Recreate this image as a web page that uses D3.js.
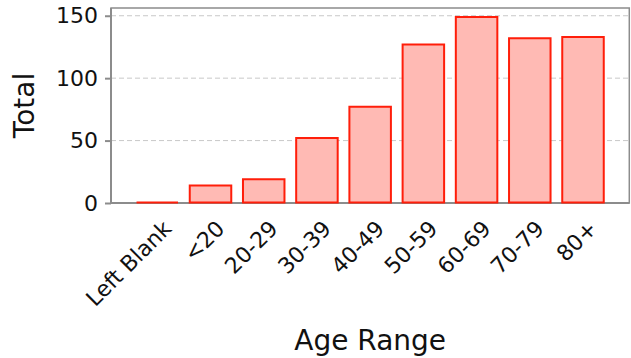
<!DOCTYPE html>
<html><head><meta charset="utf-8">
<script src="https://cdn.jsdelivr.net/npm/d3@7"></script>
<style>
html,body{margin:0;padding:0;background:#fff;}
svg{display:block;font-family:"DejaVu Sans",sans-serif;}
</style></head>
<body>
<svg id="chart" width="631" height="358"></svg>
<script>
const categories = ["Left Blank","<20","20-29","30-39","40-49","50-59","60-69","70-79","80+"];
const totals = [0,14,19,52,77,127,149,132,133];
const yTicks = [0,50,100,150];
const xLabel = "Age Range";
const yLabel = "Total";

const svg = d3.select("#chart");
const L = 111, R = 629.3, T = 8, B = 203;

const x = d3.scaleBand().domain(categories).range([L, R]).paddingInner(0.22).paddingOuter(0.48);
const y = d3.scaleLinear().domain([0, 156.2]).range([B, T]);

// grid
svg.append("g").selectAll("line").data(yTicks.filter(d => d > 0)).join("line")
  .attr("x1", L).attr("x2", R).attr("y1", d => y(d)).attr("y2", d => y(d))
  .attr("stroke", "#c8c8c8").attr("stroke-width", 1).attr("stroke-dasharray", "5,3");

// frame spines
svg.append("rect").attr("x", L).attr("y", T).attr("width", R - L).attr("height", B - T)
  .attr("fill", "none").attr("stroke", "#8c8c8c").attr("stroke-width", 1.5);
svg.append("line").attr("x1", L).attr("x2", R).attr("y1", B).attr("y2", B)
  .attr("stroke", "#8c8c8c").attr("stroke-width", 2);
svg.append("line").attr("x1", L).attr("x2", L).attr("y1", T).attr("y2", B)
  .attr("stroke", "#8c8c8c").attr("stroke-width", 2);

// bars
svg.append("g").selectAll("path").data(categories).join("path")
  .attr("d", (c, i) => {
    const x0 = x(c), x1 = x(c) + x.bandwidth(), y0 = y(0) - 0.5, y1 = Math.min(y(totals[i]), y0);
    return `M${x0},${y0}V${y1}H${x1}V${y0}Z`;
  })
  .attr("fill", "#ffbab4").attr("stroke", "#ff1e0a").attr("stroke-width", 2)
  .attr("stroke-linejoin", "miter");

// y axis
const yAxis = d3.axisLeft(y).tickValues(yTicks).tickSize(6).tickPadding(7);
const gy = svg.append("g").attr("transform", `translate(${L},0)`).call(yAxis);
gy.select(".domain").remove();
gy.selectAll(".tick line").attr("stroke", "#8c8c8c").attr("stroke-width", 2);
gy.selectAll(".tick text").attr("font-size", 22).attr("fill", "#111").attr("font-family", "DejaVu Sans");

// x axis labels
const gx = svg.append("g");
gx.selectAll("text").data(categories).join("text")
  .attr("transform", c => `translate(${x(c) + x.bandwidth()/2 + 15.5},230) rotate(-45)`)
  .attr("text-anchor", "end")
  .attr("font-size", 22).attr("fill", "#111")
  .text(c => c);

// axis titles
svg.append("text").attr("x", (L + R) / 2).attr("y", 350).attr("text-anchor", "middle")
  .attr("font-size", 28).attr("fill", "#111").text(xLabel);
svg.append("text").attr("transform", `translate(34,${(T + B) / 2}) rotate(-90)`)
  .attr("text-anchor", "middle").attr("font-size", 28).attr("fill", "#111").text(yLabel);
</script>
</body></html>
